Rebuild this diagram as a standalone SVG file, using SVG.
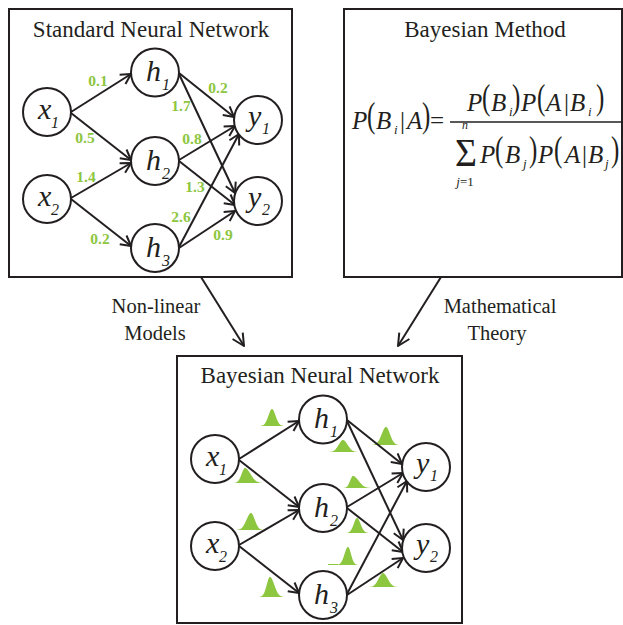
<svg xmlns="http://www.w3.org/2000/svg" width="623" height="625" viewBox="0 0 623 625" font-family="'Liberation Serif', 'Times New Roman', 'DejaVu Serif', serif">
<style>
text{font-family:"Liberation Serif","Times New Roman","DejaVu Serif",serif;fill:#231f20}
.box{fill:none;stroke:#231f20;stroke-width:2}
.nd{fill:#fff;stroke:#231f20;stroke-width:2}
.e{fill:none;stroke:#231f20;stroke-width:2;marker-end:url(#ah)}
.pe{fill:none;stroke:#231f20;stroke-width:2;marker-end:url(#ah2)}
.title{font-size:23px;text-anchor:middle}
.lab{font-size:20.5px;text-anchor:middle}
.nl{font-size:30px;font-style:italic}
.ns{font-size:16px;font-style:italic}
.w{font-size:15.5px;font-weight:bold;fill:#8dc63f;text-anchor:middle}
.bump{fill:#8dc63f}
.tail{stroke:#8dc63f;stroke-width:1;fill:none}
.m{font-size:25px;font-style:italic}
.mu{font-size:25px}
.ms{font-size:13px;font-style:italic}
.msu{font-size:13px}
</style>
<defs>
<marker id="ah" viewBox="-12 -7 14 14" refX="0" refY="0" markerWidth="14" markerHeight="14" markerUnits="userSpaceOnUse" orient="auto">
<path d="M-10,-5.5 L0,0 L-10,5.5" fill="none" stroke="#231f20" stroke-width="2" stroke-linejoin="round"/>
</marker>
<marker id="ah2" viewBox="-14 -8 16 16" refX="0" refY="0" markerWidth="16" markerHeight="16" markerUnits="userSpaceOnUse" orient="auto">
<path d="M-12,-6 L0,0 L-12,6" fill="none" stroke="#231f20" stroke-width="2" stroke-linejoin="round"/>
</marker>
<path id="gl" d="M-3.2,0 L-3,-0.011 L-2.75,-0.023 L-2.5,-0.044 L-2.25,-0.08 L-2,-0.135 L-1.75,-0.216 L-1.5,-0.325 L-1.25,-0.458 L-1,-0.607 L-0.75,-0.755 L-0.5,-0.882 L-0.25,-0.969 L0,-1 L0.1,-1 L0.1,0 Z"/>
<path id="gr" d="M-0.1,0 L-0.1,-1 L0,-1 L0.25,-0.969 L0.5,-0.882 L0.75,-0.755 L1,-0.607 L1.25,-0.458 L1.5,-0.325 L1.75,-0.216 L2,-0.135 L2.25,-0.08 L2.5,-0.044 L2.75,-0.023 L3,-0.011 L3.2,0 Z"/>
</defs>
<rect width="623" height="625" fill="#fff"/>

<!-- Panel 1: Standard Neural Network -->
<g id="panel-standard">
<rect class="box" x="9" y="9" width="283" height="268"/>
<text class="title" x="151" y="37">Standard Neural Network</text>
</g>
<g id="connectors-standard">
<path class="e" d="M71,112 L131,74"/>
<path class="e" d="M71,113 L131,160"/>
<path class="e" d="M71,198 L131,163"/>
<path class="e" d="M71,199 L131,246"/>
<path class="e" d="M179,73 L234,117"/>
<path class="e" d="M179,74 L235,193"/>
<path class="e" d="M179,160 L235,126"/>
<path class="e" d="M179,161 L235,205"/>
<path class="e" d="M179,247 L239,134"/>
<path class="e" d="M179,248 L235,211"/>
</g>
<g id="weights">
<text class="w" x="98" y="86">0.1</text>
<text class="w" x="85" y="143">0.5</text>
<text class="w" x="86" y="182">1.4</text>
<text class="w" x="100" y="244">0.2</text>
<text class="w" x="218" y="93">0.2</text>
<text class="w" x="181" y="111">1.7</text>
<text class="w" x="192" y="144">0.8</text>
<text class="w" x="195" y="192">1.3</text>
<text class="w" x="181" y="222">2.6</text>
<text class="w" x="223" y="240">0.9</text>
</g>
<g id="s-x1"><circle class="nd" cx="47" cy="112" r="24"/><text class="nl" x="38" y="119">x</text><text class="ns" x="51" y="128">1</text></g>
<g id="s-x2"><circle class="nd" cx="47" cy="199" r="24"/><text class="nl" x="38" y="206">x</text><text class="ns" x="51" y="215">2</text></g>
<g id="s-h1"><circle class="nd" cx="155" cy="72.5" r="24"/><text class="nl" x="146" y="81">h</text><text class="ns" x="162" y="90">1</text></g>
<g id="s-h2"><circle class="nd" cx="155" cy="161" r="24"/><text class="nl" x="146" y="170">h</text><text class="ns" x="162" y="179">2</text></g>
<g id="s-h3"><circle class="nd" cx="155" cy="248" r="24"/><text class="nl" x="146" y="257">h</text><text class="ns" x="162" y="266">3</text></g>
<g id="s-y1"><circle class="nd" cx="258" cy="120" r="24"/><text class="nl" x="248" y="126">y</text><text class="ns" x="262" y="134">1</text></g>
<g id="s-y2"><circle class="nd" cx="258" cy="201" r="24"/><text class="nl" x="248" y="207">y</text><text class="ns" x="262" y="215">2</text></g>

<!-- Panel 2: Bayesian Method -->
<g id="panel-bayes">
<rect class="box" x="344" y="9" width="278" height="268"/>
<text class="title" x="485" y="37">Bayesian Method</text>
<g id="formula">
<text class="m" x="352" y="129">P</text>
<text class="mu" transform="translate(367,127) scale(1,1.45)">(</text>
<text class="m" x="376" y="129">B</text>
<text class="ms" x="394" y="134">i</text>
<text class="mu" x="400" y="129">|</text>
<text class="m" x="407" y="129">A</text>
<text class="mu" transform="translate(422,127) scale(1,1.45)">)</text>
<text class="mu" x="430" y="129">=</text>
<line x1="450" y1="122" x2="621" y2="122" stroke="#231f20" stroke-width="1.5"/>
<text class="m" x="467" y="111">P</text>
<text class="mu" transform="translate(482,109) scale(1,1.45)">(</text>
<text class="m" x="491" y="111">B</text>
<text class="ms" x="509" y="116">i</text>
<text class="mu" transform="translate(512,109) scale(1,1.45)">)</text>
<text class="m" x="521" y="111">P</text>
<text class="mu" transform="translate(537,109) scale(1,1.45)">(</text>
<text class="m" x="546" y="111">A</text>
<text class="mu" x="564" y="111">|</text>
<text class="m" x="570" y="111">B</text>
<text class="ms" x="588" y="116">i</text>
<text class="mu" transform="translate(596,109) scale(1,1.45)">)</text>
<text transform="translate(455,166) scale(1.05,1.12)" style="font-size:36px">Σ</text>
<text class="ms" x="465" y="129" text-anchor="middle" style="font-size:12px">n</text>
<text x="465" y="186" text-anchor="middle" class="msu"><tspan font-style="italic">j</tspan>=1</text>
<text class="m" x="480" y="163">P</text>
<text class="mu" transform="translate(495,161) scale(1,1.45)">(</text>
<text class="m" x="505" y="163">B</text>
<text class="ms" x="523" y="168">j</text>
<text class="mu" transform="translate(529,161) scale(1,1.45)">)</text>
<text class="m" x="538" y="163">P</text>
<text class="mu" transform="translate(554,161) scale(1,1.45)">(</text>
<text class="m" x="565" y="163">A</text>
<text class="mu" x="582" y="163">|</text>
<text class="m" x="588" y="163">B</text>
<text class="ms" x="605" y="168">j</text>
<text class="mu" transform="translate(611,161) scale(1,1.45)">)</text>
</g>
</g>

<!-- Panel connectors -->
<g id="panel-connectors">
<path class="pe" d="M201,277 L244,346"/>
<path class="pe" d="M441,277 L398,346"/>
</g>
<g id="label-nonlinear"><text class="lab" x="156" y="313">Non-linear</text><text class="lab" x="155" y="340">Models</text></g>
<g id="label-math"><text class="lab" x="500" y="313">Mathematical</text><text class="lab" x="497" y="340">Theory</text></g>

<!-- Panel 3: Bayesian Neural Network -->
<g id="panel-bnn">
<rect class="box" x="177" y="356" width="285" height="267"/>
<text class="title" x="320" y="383">Bayesian Neural Network</text>
</g>
<g id="bumps" class="bump">
<use href="#gl" transform="translate(272,426) scale(3.6,17)"/><use href="#gr" transform="translate(272,426) scale(3.6,17)"/>
<use href="#gl" transform="translate(245,483) scale(3.4,15)"/><use href="#gr" transform="translate(245,483) scale(5.5,15)"/>
<use href="#gl" transform="translate(251,530) scale(4.5,17)"/><use href="#gr" transform="translate(251,530) scale(3.8,17)"/>
<use href="#gl" transform="translate(270,597) scale(3.3,20)"/><use href="#gr" transform="translate(270,597) scale(4.3,20)"/>
<use href="#gl" transform="translate(343,452) scale(4.3,12)"/><use href="#gr" transform="translate(343,452) scale(4.6,12)"/>
<use href="#gl" transform="translate(386,445) scale(4.3,18)"/><use href="#gr" transform="translate(386,445) scale(4,18)"/>
<use href="#gl" transform="translate(353,488) scale(2.9,12)"/><use href="#gr" transform="translate(353,488) scale(5.6,12)"/>
<use href="#gl" transform="translate(357,533) scale(3.3,15)"/><use href="#gr" transform="translate(357,533) scale(3.6,15)"/>
<use href="#gl" transform="translate(348,565) scale(3.5,18)"/><use href="#gr" transform="translate(348,565) scale(3,18)"/>
<use href="#gl" transform="translate(383,587) scale(4.3,14)"/><use href="#gr" transform="translate(383,587) scale(4.6,14)"/>
<path class="tail" d="M328,564.5 L338,564.5"/>
</g>
<g transform="translate(168,347)">
<g id="connectors-bnn">
<path class="e" d="M71,112 L131,74"/>
<path class="e" d="M71,113 L131,160"/>
<path class="e" d="M71,198 L131,163"/>
<path class="e" d="M71,199 L131,246"/>
<path class="e" d="M179,73 L234,117"/>
<path class="e" d="M179,74 L235,193"/>
<path class="e" d="M179,160 L235,126"/>
<path class="e" d="M179,161 L235,205"/>
<path class="e" d="M179,247 L239,134"/>
<path class="e" d="M179,248 L235,211"/>
</g>
<g id="b-x1"><circle class="nd" cx="47" cy="112" r="24"/><text class="nl" x="38" y="119">x</text><text class="ns" x="51" y="128">1</text></g>
<g id="b-x2"><circle class="nd" cx="47" cy="199" r="24"/><text class="nl" x="38" y="206">x</text><text class="ns" x="51" y="215">2</text></g>
<g id="b-h1"><circle class="nd" cx="155" cy="72.5" r="24"/><text class="nl" x="146" y="81">h</text><text class="ns" x="162" y="90">1</text></g>
<g id="b-h2"><circle class="nd" cx="155" cy="161" r="24"/><text class="nl" x="146" y="170">h</text><text class="ns" x="162" y="179">2</text></g>
<g id="b-h3"><circle class="nd" cx="155" cy="248" r="24"/><text class="nl" x="146" y="257">h</text><text class="ns" x="162" y="266">3</text></g>
<g id="b-y1"><circle class="nd" cx="258" cy="120" r="24"/><text class="nl" x="248" y="126">y</text><text class="ns" x="262" y="134">1</text></g>
<g id="b-y2"><circle class="nd" cx="258" cy="201" r="24"/><text class="nl" x="248" y="207">y</text><text class="ns" x="262" y="215">2</text></g>
</g>
</svg>
